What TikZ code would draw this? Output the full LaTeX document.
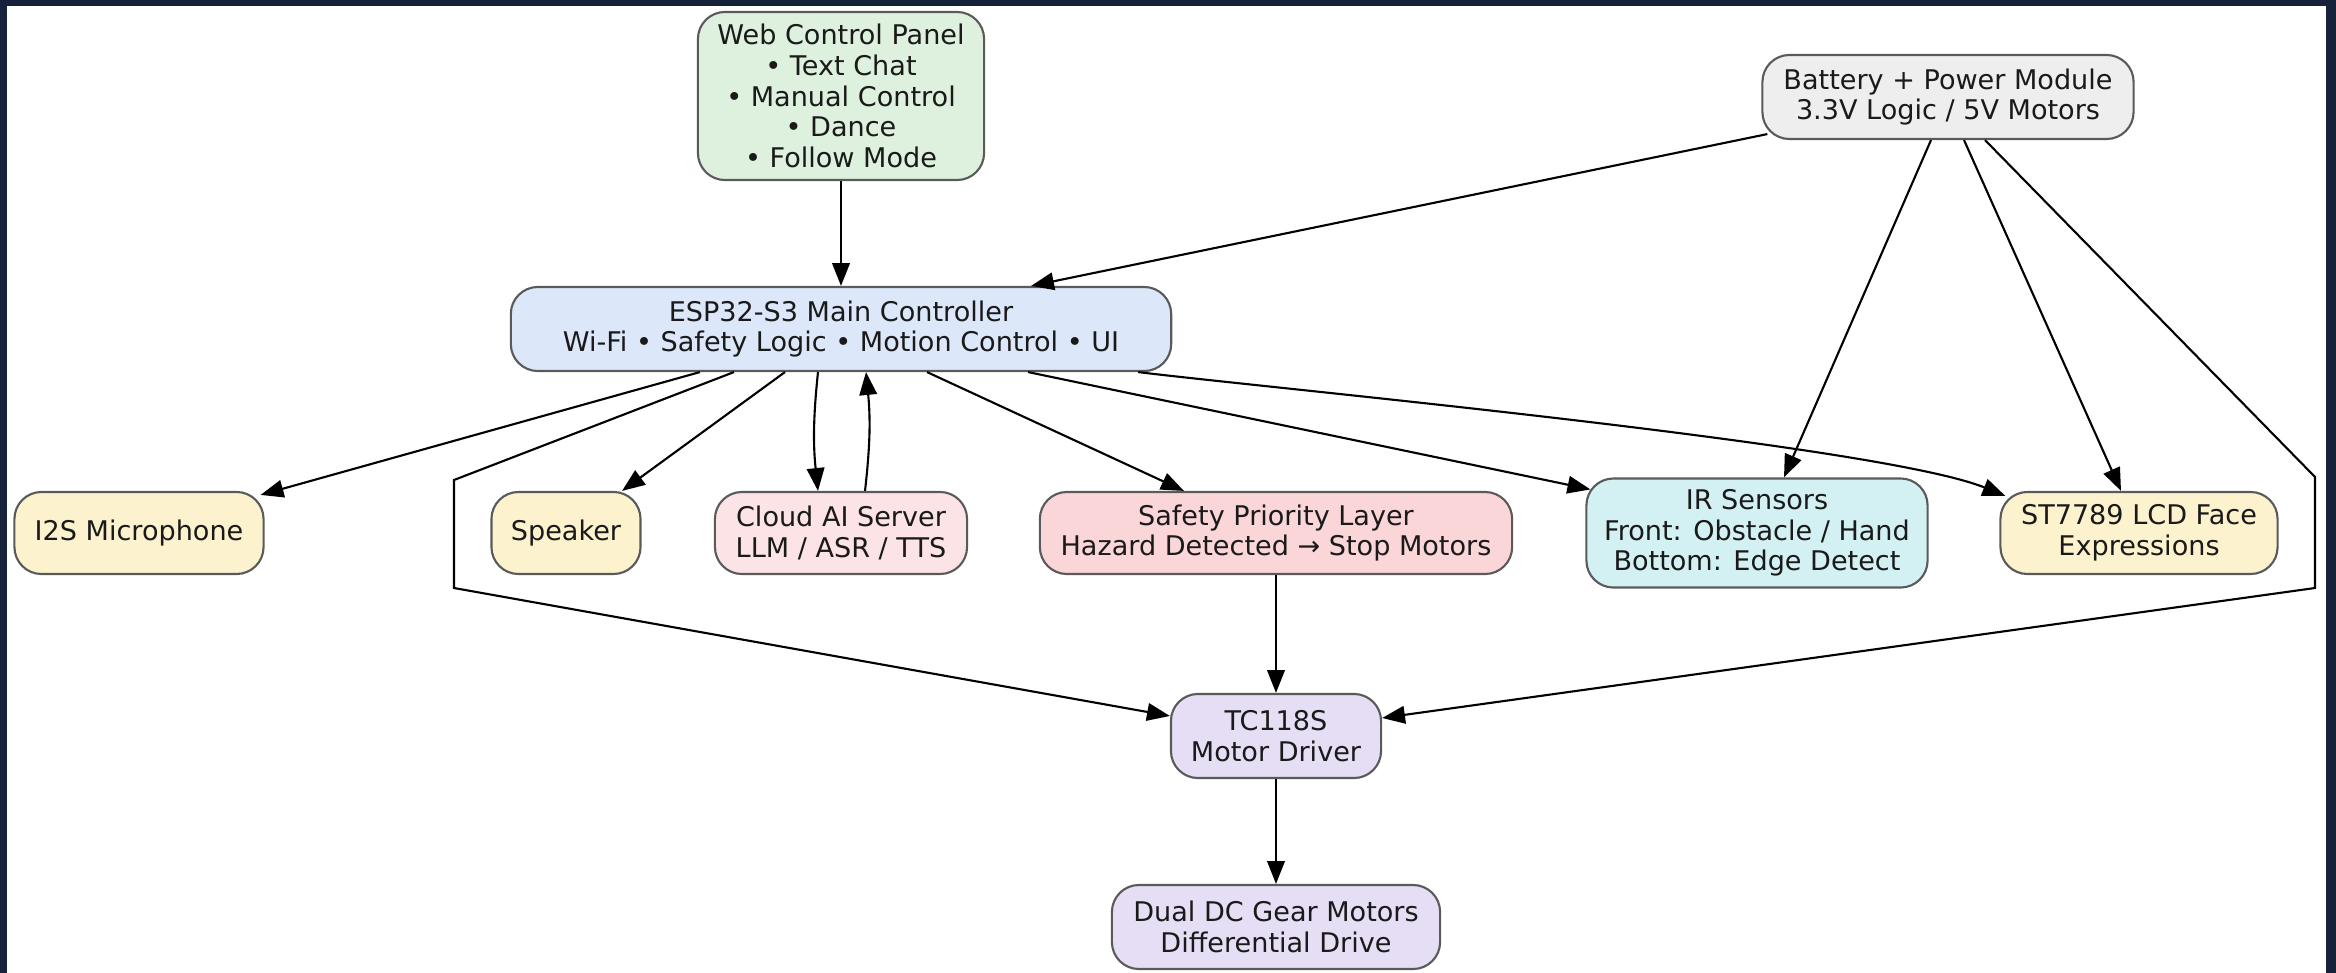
\documentclass[tikz,border=0pt]{standalone}
\usepackage{fontspec}
\setmainfont{DejaVu Sans}
\usetikzlibrary{arrows.meta}
\definecolor{navy}{HTML}{16213A}
\definecolor{boxline}{HTML}{5A5A5A}
\definecolor{txt}{HTML}{1A1A1A}
\definecolor{cgreen}{HTML}{DDF1DE}
\definecolor{cgray}{HTML}{EEEEEE}
\definecolor{cblue}{HTML}{DCE8F9}
\definecolor{cyellow}{HTML}{FDF2CE}
\definecolor{cpink}{HTML}{FCE3E5}
\definecolor{cred}{HTML}{FBD6D8}
\definecolor{ccyan}{HTML}{D3F1F3}
\definecolor{cpurple}{HTML}{E6DEF5}
\begin{document}
\begin{tikzpicture}[x=0.01cm,y=-0.01cm,
  box/.style={draw=boxline, line width=0.6pt, rounded corners=0.27cm, align=center, inner sep=0pt,
    font=\fontsize{7.7}{8.7}\selectfont, text=txt},
  conn/.style={draw=black, line width=0.6pt, -{Triangle[length=6.5pt,width=5pt]}}]
\fill[navy] (0,0) rectangle (2336,973);
\fill[white] (7,6) rectangle (2326,973);
\useasboundingbox (0,0) rectangle (2336,973);

\node[box, fill=cgreen, minimum width=2.86cm, minimum height=1.68cm] (web) at (841,96)
  {Web Control Panel\\• Text Chat\\• Manual Control\\• Dance\\• Follow Mode};
\node[box, fill=cgray, minimum width=3.71cm, minimum height=0.84cm] (bat) at (1948,97)
  {Battery + Power Module\\3.3V Logic / 5V Motors};
\node[box, fill=cblue, minimum width=6.60cm, minimum height=0.84cm] (esp) at (841,329)
  {ESP32-S3 Main Controller\\Wi-Fi • Safety Logic • Motion Control • UI};
\node[box, fill=cyellow, minimum width=2.49cm, minimum height=0.82cm] (mic) at (139,533)
  {I2S Microphone};
\node[box, fill=cyellow, minimum width=1.49cm, minimum height=0.82cm] (spk) at (566,533)
  {Speaker};
\node[box, fill=cpink, minimum width=2.52cm, minimum height=0.82cm] (cloud) at (841,533)
  {Cloud AI Server\\LLM / ASR / TTS};
\node[box, fill=cred, minimum width=4.72cm, minimum height=0.82cm] (safe) at (1276,533)
  {Safety Priority Layer\\Hazard Detected → Stop Motors};
\node[box, fill=ccyan, minimum width=3.41cm, minimum height=1.09cm] (ir) at (1757,533)
  {IR Sensors\\Front: Obstacle / Hand\\Bottom: Edge Detect};
\node[box, fill=cyellow, minimum width=2.77cm, minimum height=0.82cm] (lcd) at (2139,533)
  {ST7789 LCD Face\\Expressions};
\node[box, fill=cpurple, minimum width=2.10cm, minimum height=0.84cm] (tc) at (1276,736)
  {TC118S\\Motor Driver};
\node[box, fill=cpurple, minimum width=3.28cm, minimum height=0.84cm] (dual) at (1276,927)
  {Dual DC Gear Motors\\Differential Drive};

\coordinate (l1) at (454,480);
\coordinate (l2) at (454,588);
\coordinate (r1) at (2315,477);
\coordinate (r2) at (2315,588);

\draw[conn] (web.south) -- (esp.north);
\draw[conn] ([xshift=0.06cm,yshift=0.06cm]bat.south west) -- ([xshift=1.90cm]esp.north);
\draw[conn] ([xshift=-1.41cm]esp.south) -- ([xshift=-0.04cm,yshift=-0.04cm]mic.north east);
\draw[conn] ([xshift=-1.07cm]esp.south) -- (l1) -- (l2) -- ([yshift=0.20cm]tc.west);
\draw[conn] ([xshift=-0.56cm]esp.south) -- ([xshift=0.56cm]spk.north);
\draw[conn] ([xshift=-0.23cm]esp.south) to[bend right=6] ([xshift=-0.23cm]cloud.north);
\draw[conn] ([xshift=0.24cm]cloud.north) to[bend right=6] ([xshift=0.25cm]esp.south);
\draw[conn] ([xshift=0.86cm]esp.south) -- ([xshift=-0.92cm]safe.north);
\draw[conn] ([xshift=1.87cm]esp.south) -- ([xshift=0.05cm,yshift=-0.12cm]ir.north west);
\draw[conn] ([xshift=2.97cm]esp.south) to[out=-7,in=158,looseness=0.4] ([xshift=0.06cm,yshift=-0.05cm]lcd.north west);
\draw[conn] ([xshift=-0.17cm]bat.south) -- ([xshift=0.27cm]ir.north);
\draw[conn] ([xshift=0.16cm]bat.south) -- ([xshift=-0.18cm]lcd.north);
\draw[conn] ([xshift=0.37cm]bat.south) -- (r1) -- (r2) -- ([yshift=0.18cm]tc.east);
\draw[conn] (safe.south) -- (tc.north);
\draw[conn] (tc.south) -- (dual.north);
\end{tikzpicture}
\end{document}
